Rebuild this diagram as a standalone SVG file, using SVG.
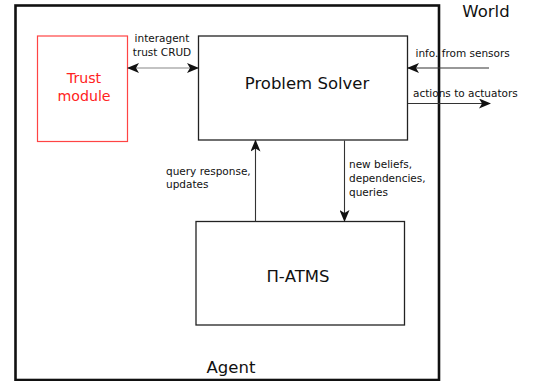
<svg xmlns="http://www.w3.org/2000/svg" width="534" height="381" viewBox="0 0 534 381">
<style>
text{font-family:"DejaVu Sans",Verdana,sans-serif;fill:#111}
.box{fill:#fff;stroke:#222;stroke-width:1.3}
.lbl{font-size:10.5px}
.big{font-size:16.5px}
.con{stroke:#333;stroke-width:1.1;fill:none}
</style>
<defs>
<marker id="ah" viewBox="0 0 12 10" refX="11" refY="5" markerWidth="12" markerHeight="10" markerUnits="userSpaceOnUse" orient="auto-start-reverse">
<path d="M0,0 L12,5 L0,10 L3,5 Z" fill="#111"/>
</marker>
</defs>
<rect width="534" height="381" fill="#fff"/>
<g id="agent">
<rect x="15.5" y="5.5" width="423.5" height="374.5" fill="none" stroke="#111" stroke-width="2.6"/>
<text class="big" x="231" y="373" text-anchor="middle">Agent</text>
</g>
<g id="world">
<text class="big" x="486" y="17" text-anchor="middle">World</text>
</g>
<g id="trust">
<rect x="37.5" y="36" width="90" height="105.5" fill="#fff" stroke="#f44" stroke-width="1.2"/>
<text x="84" y="83" text-anchor="middle" font-size="14.2" style="fill:#f22">Trust</text>
<text x="84" y="101" text-anchor="middle" font-size="14.2" style="fill:#f22">module</text>
</g>
<g id="solver">
<rect class="box" x="198.5" y="36" width="209" height="104"/>
<text class="big" x="307" y="89" text-anchor="middle">Problem Solver</text>
</g>
<g id="atms">
<rect class="box" x="196" y="221.5" width="208.5" height="103.5"/>
<text class="big" x="298" y="282" text-anchor="middle" font-size="16.2">Π-ATMS</text>
</g>
<g id="connectors">
<line x1="128" y1="68" x2="198" y2="68" stroke="#888" stroke-width="1.1" marker-start="url(#ah)" marker-end="url(#ah)"/>
<line class="con" x1="489" y1="68" x2="408" y2="68" marker-end="url(#ah)"/>
<line class="con" x1="408" y1="103.5" x2="490" y2="103.5" marker-end="url(#ah)"/>
<line class="con" x1="255.5" y1="221.5" x2="255.5" y2="140.5" marker-end="url(#ah)"/>
<line class="con" x1="344.5" y1="140.5" x2="344.5" y2="221" marker-end="url(#ah)"/>
<text class="lbl" x="162" y="42" text-anchor="middle">interagent</text>
<text class="lbl" x="162" y="55.5" text-anchor="middle">trust CRUD</text>
<text class="lbl" x="415.5" y="57">info. from sensors</text>
<text class="lbl" x="413" y="96.5">actions to actuators</text>
<text class="lbl" x="166" y="174.5">query response,</text>
<text class="lbl" x="166" y="188">updates</text>
<text class="lbl" x="349" y="168">new beliefs,</text>
<text class="lbl" x="349" y="182">dependencies,</text>
<text class="lbl" x="349" y="196">queries</text>
</g>
</svg>
